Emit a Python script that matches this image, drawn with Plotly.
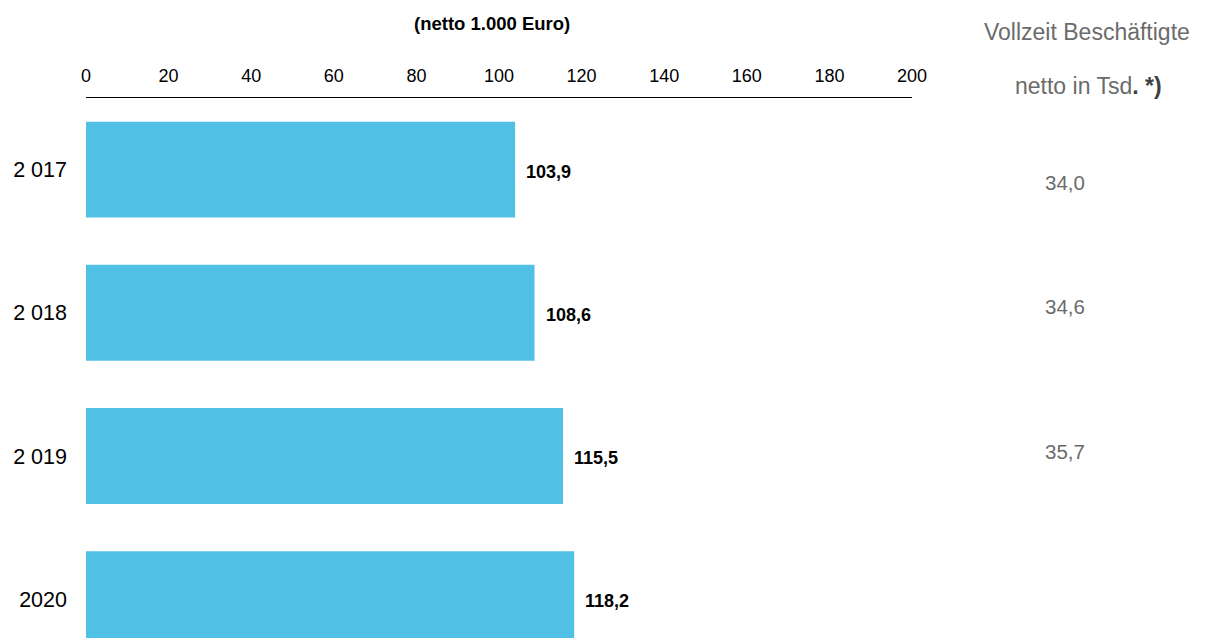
import plotly.graph_objects as go

years = ["2 017", "2 018", "2 019", "2020"]
values = [103.9, 108.6, 115.5, 118.2]
staff = [34.0, 34.6, 35.7]          # Vollzeit Beschäftigte 2017-2019
staff_shift = [-13, 6, 5]
x_ticks = [0, 20, 40, 60, 80, 100, 120, 140, 160, 180, 200]

FONT = "Liberation Sans, Arial"
ML, MR, MT = 86, 296, 98
W = 1208 - ML - MR
H = 638 - MT


def de(v):
    return f"{v:.1f}".replace(".", ",")


def px(p):
    return (p - ML) / W


def py(p):
    return 1 - (p - MT) / H


fig = go.Figure()
fig.add_trace(go.Bar(
    y=years, x=values, orientation="h", width=0.67,
    marker=dict(color="#50C1E4", line=dict(width=0)),
    hoverinfo="skip",
))

for i, v in enumerate(values):
    fig.add_annotation(x=v, y=i, xref="x", yref="y", text=f"<b>{de(v)}</b>",
                       showarrow=False, xanchor="left", yanchor="middle",
                       xshift=9, yshift=-2,
                       font=dict(family=FONT, size=18, color="#000000"))

for i, (v, s) in enumerate(zip(staff, staff_shift)):
    fig.add_annotation(x=px(1065), y=i, xref="paper", yref="y", text=de(v),
                       showarrow=False, xanchor="center", yanchor="middle", yshift=s,
                       font=dict(family=FONT, size=20.5, color="#6b6b6b"))

fig.add_annotation(x=px(492), y=py(23), xref="paper", yref="paper",
                   text="<b>(netto 1.000 Euro)</b>",
                   showarrow=False, xanchor="center", yanchor="middle",
                   font=dict(family=FONT, size=18.5, color="#000000"))

fig.add_annotation(x=px(1087), y=py(32), xref="paper", yref="paper",
                   text="Vollzeit Beschäftigte",
                   showarrow=False, xanchor="center", yanchor="middle",
                   font=dict(family=FONT, size=23, color="#6b6b6b"))
fig.add_annotation(x=px(1088), y=py(86), xref="paper", yref="paper",
                   text="netto in Tsd<b><span style='color:#404040'>. *)</span></b>",
                   showarrow=False, xanchor="center", yanchor="middle",
                   font=dict(family=FONT, size=23, color="#6b6b6b"))

fig.update_layout(
    width=1208, height=638,
    margin=dict(l=ML, r=MR, t=MT, b=0),
    paper_bgcolor="white", plot_bgcolor="white",
    showlegend=False,
    font=dict(family=FONT, color="#000000"),
    xaxis=dict(side="top", range=[0, 200], tickvals=x_ticks, showgrid=False, zeroline=False,
               showline=True, linecolor="#000000", linewidth=1, ticks="",
               ticklabelstandoff=8,
               tickfont=dict(size=18, color="#000000"), fixedrange=True),
    yaxis=dict(type="category", categoryorder="array", categoryarray=years,
               range=[3.27, -0.5], showgrid=False, zeroline=False, showline=False, ticks="",
               ticklabelstandoff=18,
               tickfont=dict(size=21.5, color="#000000"), fixedrange=True),
)

fig.write_html("out.html")
